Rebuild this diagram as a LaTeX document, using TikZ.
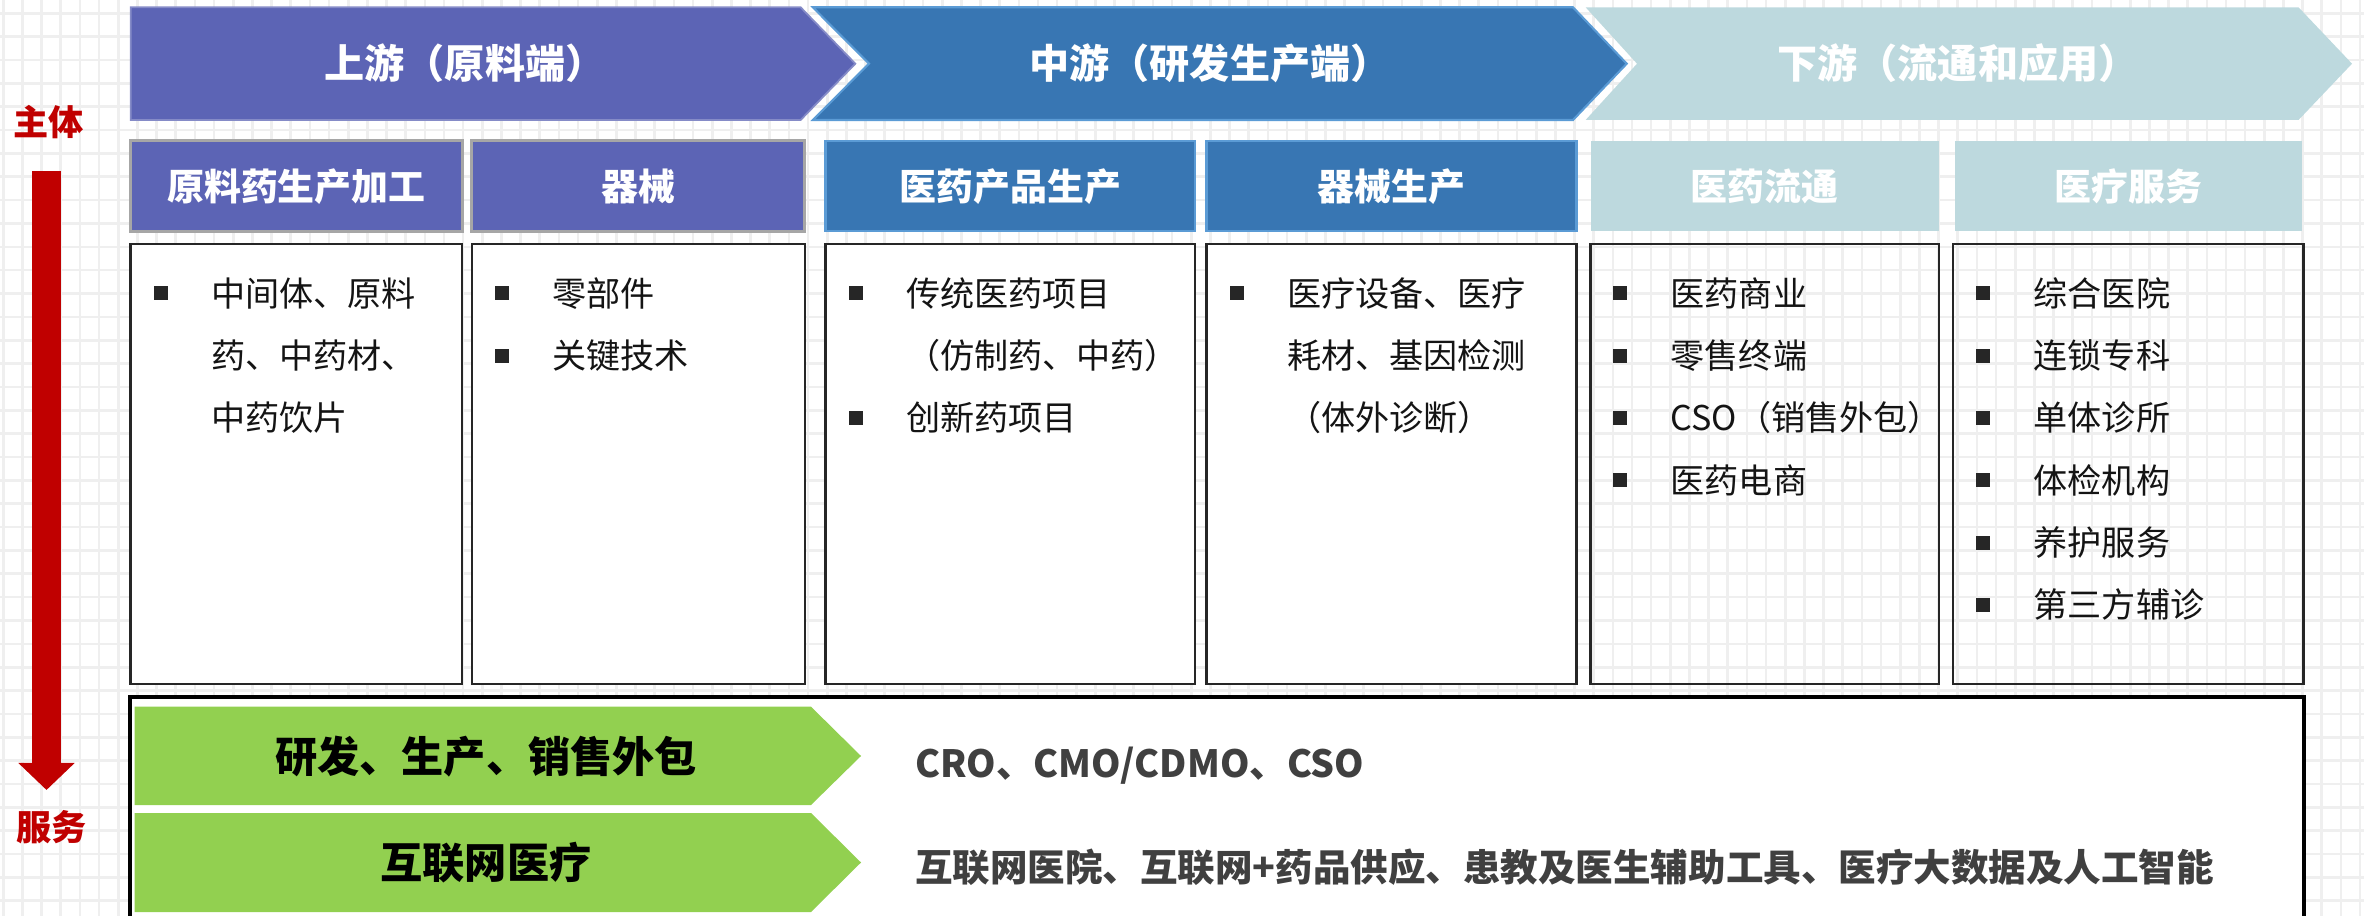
\documentclass[tikz,border=0pt]{standalone}
\usepackage{fontspec}
\setmainfont{Noto Sans CJK SC}
\usetikzlibrary{arrows.meta}
\definecolor{upc}{RGB}{92,100,181}
\definecolor{midc}{RGB}{56,118,179}
\definecolor{midline}{RGB}{91,155,213}
\definecolor{lowc}{RGB}{189,217,222}
\definecolor{svcgreen}{RGB}{146,208,80}
\definecolor{mainred}{RGB}{192,0,0}
\definecolor{gridc}{RGB}{239,239,239}
\definecolor{ink}{RGB}{38,38,38}
\definecolor{svcink}{RGB}{64,64,64}
\tikzset{
  stage/.style={text=white,inner sep=0pt,text height=9.4pt,text depth=0.8pt,font=\bfseries\fontsize{11.4}{12}\selectfont},
  head/.style={minimum height=0.9cm,inner sep=0pt,text=white,text height=8.7pt,text depth=0.7pt,font=\bfseries\fontsize{10.5}{12}\selectfont},
  panel/.style={draw=ink,line width=0.7pt,minimum height=4.4cm,inner sep=0pt},
  sq/.style={fill=ink,minimum size=0.14cm,inner sep=0pt},
  item/.style={anchor=west,inner sep=0pt,text=black!92,text height=8pt,text depth=0.7pt,font=\fontsize{9.7}{11}\selectfont},
  svc/.style={inner sep=0pt,text height=10pt,text depth=0.8pt,font=\bfseries\fontsize{12}{13}\selectfont},
  svctext/.style={anchor=west,inner sep=0pt,text=svcink,text height=9pt,text depth=0.8pt,font=\bfseries\fontsize{10.67}{12}\selectfont},
  side/.style={text=mainred,inner sep=0pt,text height=8.3pt,text depth=0.7pt,font=\bfseries\fontsize{10}{11}\selectfont}
}

\begin{document}
\begin{tikzpicture}[x=0.01cm,y=-0.01cm]
  \useasboundingbox (0,0) rectangle (2364,916);
  % faint squared paper behind everything
  \begin{scope}[shift={(3.3,13.3)}]
    \draw[gridc,line width=0.75pt,xstep=0.1915cm,ystep=0.2334cm] (-10,920) grid (2370,-20);
  \end{scope}

  % the three stages
  \filldraw[fill=upc,draw=upc!75!white,line width=0.5pt] (130.7,7.3) -- (800.6,7.3) -- (855.3,63.7) -- (800.6,120) -- (130.7,120) -- cycle;
  \filldraw[fill=midc,draw=midline,line width=0.6pt] (812.8,7.3) -- (1573,7.3) -- (1626.7,63.7) -- (1573,120) -- (812.8,120) -- (869,63.7) -- cycle;
  \fill[lowc] (1585.6,7.3) -- (2298.5,7.3) -- (2352,63.7) -- (2298.5,120) -- (1585.6,120) -- (1637,63.7) -- cycle;
  \node[stage] (up) at (465,63.7) {上游（原料端）};
  \node[stage] (mid) at (1210,63.7) {中游（研发生产端）};
  \node[stage] (low) at (1958,63.7) {下游（流通和应用）};

  % column heads
  \node[head,fill=upc,draw=gray!70,line width=0.85pt,minimum width=3.313cm] (h1) at (296.4,186) {原料药生产加工};
  \node[head,fill=upc,draw=gray!70,line width=0.85pt,minimum width=3.329cm] (h2) at (638.3,186) {器械};
  \node[head,fill=midc,draw=midline,line width=0.7pt,minimum width=3.695cm] (h3) at (1010.3,186) {医药产品生产};
  \node[head,fill=midc,draw=midline,line width=0.7pt,minimum width=3.699cm] (h4) at (1391.6,186) {器械生产};
  \node[head,fill=lowc,minimum width=3.476cm] (h5) at (1764.6,186) {医药流通};
  \node[head,fill=lowc,minimum width=3.471cm] (h6) at (2128.5,186) {医疗服务};

  % column panels
  \node[panel,fill=white,minimum width=3.313cm] (c1) at (296.4,464) {};
  \node[panel,fill=white,minimum width=3.329cm] (c2) at (638.3,464) {};
  \node[panel,fill=white,minimum width=3.695cm] (c3) at (1010.3,464) {};
  \node[panel,fill=white,minimum width=3.699cm] (c4) at (1391.6,464) {};
  \node[panel,minimum width=3.485cm] (c5) at (1764.8,464) {};
  \node[panel,minimum width=3.505cm] (c6) at (2128.3,464) {};

  \node[sq] (b11) at (160.7,293.5) {};
  \node[item] (t11) at (210.7,293.5) {中间体、原料};
  \node[item] (t11b) at (210.7,355.8) {药、中药材、};
  \node[item] (t11c) at (210.7,418.1) {中药饮片};

  \node[sq] (b21) at (501.8,293.5) {};
  \node[item] (t21) at (551.8,293.5) {零部件};
  \node[sq] (b22) at (501.8,355.8) {};
  \node[item] (t22) at (551.8,355.8) {关键技术};

  \node[sq] (b31) at (855.5,293.5) {};
  \node[item] (t31) at (905.5,293.5) {传统医药项目};
  \node[item] (t31b) at (905.5,355.8) {（仿制药、中药）};
  \node[sq] (b32) at (855.5,418.1) {};
  \node[item] (t32) at (905.5,418.1) {创新药项目};

  \node[sq] (b41) at (1236.6,293.5) {};
  \node[item] (t41) at (1286.6,293.5) {医疗设备、医疗};
  \node[item] (t41b) at (1286.6,355.8) {耗材、基因检测};
  \node[item] (t41c) at (1286.6,418.1) {（体外诊断）};

  \node[sq] (b51) at (1620,293.5) {};
  \node[item] (t51) at (1670,293.5) {医药商业};
  \node[sq] (b52) at (1620,355.8) {};
  \node[item] (t52) at (1670,355.8) {零售终端};
  \node[sq] (b53) at (1620,418.1) {};
  \node[item] (t53) at (1670,418.1) {CSO（销售外包）};
  \node[sq] (b54) at (1620,480.4) {};
  \node[item] (t54) at (1670,480.4) {医药电商};

  \node[sq] (b61) at (1983,293.5) {};
  \node[item] (t61) at (2033,293.5) {综合医院};
  \node[sq] (b62) at (1983,355.8) {};
  \node[item] (t62) at (2033,355.8) {连锁专科};
  \node[sq] (b63) at (1983,418.1) {};
  \node[item] (t63) at (2033,418.1) {单体诊所};
  \node[sq] (b64) at (1983,480.4) {};
  \node[item] (t64) at (2033,480.4) {体检机构};
  \node[sq] (b65) at (1983,542.7) {};
  \node[item] (t65) at (2033,542.7) {养护服务};
  \node[sq] (b66) at (1983,605) {};
  \node[item] (t66) at (2033,605) {第三方辅诊};

  % service band
  \draw[black,line width=1pt,fill=white] (130,697) rectangle (2304,940);
  \fill[svcgreen] (134.7,706.7) -- (811,706.7) -- (861,756) -- (811,805) -- (134.7,805) -- cycle;
  \fill[svcgreen] (134.7,813) -- (811,813) -- (861,862.5) -- (811,912) -- (134.7,912) -- cycle;
  \node[svc] (rd) at (486,756) {研发、生产、销售外包};
  \node[svc] (net) at (486,862.5) {互联网医疗};
  \node[svctext] (rdlist) at (914.5,763) {CRO、CMO/CDMO、CSO};
  \node[svctext] (netlist) at (914.5,866.7) {互联网医院、互联网+药品供应、患教及医生辅助工具、医疗大数据及人工智能};

  % left axis
  \node[side] (zhuti) at (49,121.7) {主体};
  \node[side] (fuwu) at (51.7,826.7) {服务};
  \coordinate (atop) at (46.5,171);
  \coordinate (abot) at (46.5,790);
  \draw[mainred,line width=7.97pt,-{Triangle[width=15.6pt,length=7.7pt]}] (atop) -- (abot);
\end{tikzpicture}
\end{document}
